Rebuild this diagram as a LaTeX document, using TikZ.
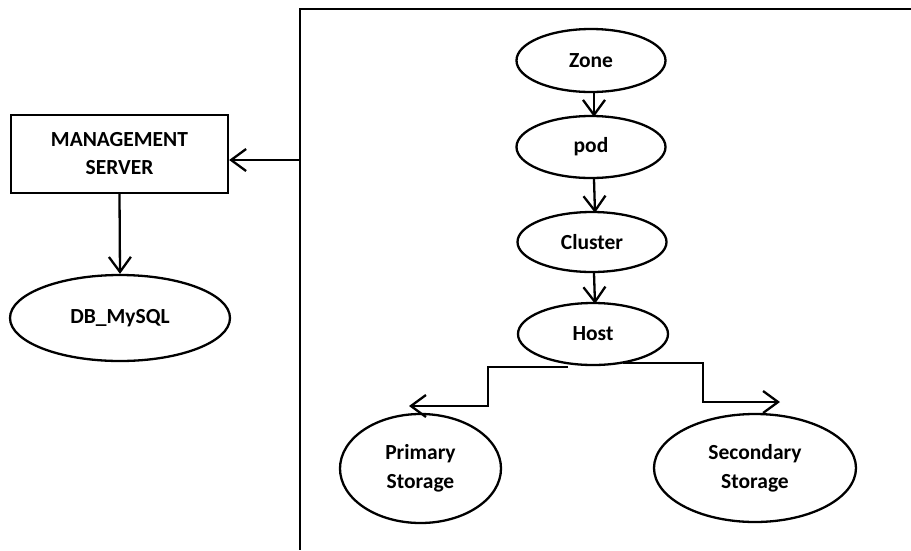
\documentclass[tikz,border=0pt]{standalone}
\usepackage{fontspec}
\setmainfont{Carlito}
\usetikzlibrary{shapes.geometric,arrows.meta}
\begin{document}
\begin{tikzpicture}[x=1pt,y=-1pt,
  every node/.style={font=\bfseries\fontsize{21.5}{28}\selectfont, align=center},
  twoline/.style={font=\bfseries\fontsize{21.5}{29}\selectfont},
  oval/.style={draw, line width=2.3pt, ellipse, inner sep=0pt},
  box/.style={draw, line width=2.3pt, rectangle, inner sep=0pt},
  link/.style={line width=2.3pt},
  arr/.style={link, -{Straight Barb[length=15pt,width=22pt,line width=2.3pt]}}]
\useasboundingbox (0,0) rectangle (911,550);
\fill[white] (0,0) rectangle (911,550);

% open frame on the right
\coordinate (ftop) at (300,9);
\coordinate (fend) at (911,9);
\coordinate (fbot) at (300,550);
\draw[line width=2.6pt] (fend) -- (ftop) -- (fbot);

% left side
\node[box, minimum width=217pt, minimum height=78pt] (mgmt) at (119.5,154) {MANAGEMENT\\SERVER};
\node[oval, minimum width=220pt, minimum height=86pt] (db) at (120,318) {DB\_MySQL};

% hierarchy inside the frame
\node[oval, minimum width=149pt, minimum height=63pt] (zone) at (591,60.5) {Zone};
\node[oval, minimum width=149pt, minimum height=62pt] (pod) at (591,147) {pod};
\node[oval, minimum width=149pt, minimum height=60pt] (cluster) at (592,242) {Cluster};
\node[oval, minimum width=150pt, minimum height=62pt] (host) at (593,334) {Host};
\node[oval, twoline, minimum width=161pt, minimum height=109pt] (prim) at (420.5,468.5) {Primary\\Storage};
\node[oval, twoline, minimum width=202pt, minimum height=108pt] (sec) at (755,468) {Secondary\\Storage};

% connectors
\coordinate (fin) at (300,160);
\draw[arr] (fin) -- (fin -| mgmt.east);
\draw[arr] (mgmt.south) -- (db.north);

\draw[arr] ([xshift=3pt]zone.south) -- ([xshift=3pt,yshift=-2pt]pod.north);
\draw[arr] ([xshift=3pt]pod.south) -- ([xshift=3pt,yshift=-2pt]cluster.north);
\draw[arr] ([xshift=2pt]cluster.south) -- ([xshift=2pt,yshift=-2pt]host.north);

\coordinate (ltip) at (409,406);
\coordinate (lbend) at (488,406);
\coordinate (rtip) at (780,402);
\coordinate (rbend) at (703,402);
\draw[arr] ([xshift=-25pt,yshift=-1pt]host.south) -| (lbend) -- (ltip);
\draw[arr] ([xshift=30pt,yshift=3pt]host.south) -| (rbend) -- (rtip);
\end{tikzpicture}
\end{document}
